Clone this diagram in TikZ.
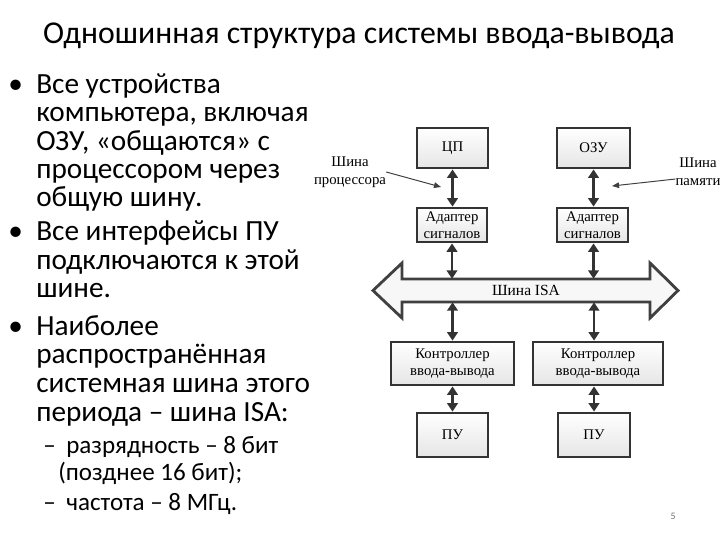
\documentclass[tikz,border=0pt]{standalone}
\usepackage{fontspec}
\setmainfont{Carlito}
\newfontfamily\diagfont{Liberation Serif}
\usetikzlibrary{arrows.meta}
\newlength\px
\setlength\px{0.025cm}

\begin{document}
\begin{tikzpicture}[x=0.025cm, y=-0.025cm,
    boxStyle/.style={rectangle, draw=black!80, line width=2pt, top color=white, bottom color=black!10, align=center, inner sep=0pt, font=\diagfont\fontsize{10.5}{12}\selectfont},
    linkStyle/.style={{Triangle[length=6pt,width=7.5pt]}-{Triangle[length=6pt,width=7.5pt]}, line width=2pt, draw=black!80},
    busStyle/.style={draw=black!75, line width=2pt, fill=black!3, line join=miter},
    noteStyle/.style={align=center, inner sep=0pt, font=\diagfont\fontsize{10.5}{12.5}\selectfont},
    pointStyle/.style={-{Triangle[length=5pt,width=4pt]}, line width=0.7pt, draw=black!75},
    lineStyle/.style={anchor=base west, inner sep=0pt, font=\fontsize{20.8}{24}\selectfont},
    subStyle/.style={anchor=base west, inner sep=0pt, font=\fontsize{17.8}{21}\selectfont}]
    \useasboundingbox[fill=white] (0,0) rectangle (720,540);

    \node[anchor=base, inner sep=0pt, font=\fontsize{22.6}{26}\selectfont] (title) at (359,43) {Одношинная структура системы ввода-вывода};

    \node[lineStyle] (b1) at (8,93) {•};
    \node[lineStyle] (t1) at (36,93) {Все устройства};
    \node[lineStyle] (t2) at (36,121) {компьютера, включая};
    \node[lineStyle] (t3) at (36,150) {ОЗУ, «общаются» с};
    \node[lineStyle] (t4) at (36,178) {процессором через};
    \node[lineStyle] (t5) at (36,206) {общую шину.};

    \node[lineStyle] (b2) at (8,240) {•};
    \node[lineStyle] (t6) at (36,240) {Все интерфейсы ПУ};
    \node[lineStyle] (t7) at (36,269) {подключаются к этой};
    \node[lineStyle] (t8) at (36,297) {шине.};

    \node[lineStyle] (b3) at (8,335) {•};
    \node[lineStyle] (t9) at (36,335) {Наиболее};
    \node[lineStyle] (t10) at (36,363) {распространённая};
    \node[lineStyle] (t11) at (36,392) {системная шина этого};
    \node[lineStyle] (t12) at (36,421) {периода – шина ISA:};

    \node[subStyle] (d1) at (43,453) {–};
    \node[subStyle] (s1) at (66,453) {разрядность – 8 бит};
    \node[subStyle] (s2) at (58,480) {(позднее 16 бит);};
    \node[subStyle] (d2) at (43,510) {–};
    \node[subStyle] (s3) at (66,510) {частота – 8 МГц.};

    \node[boxStyle, minimum width=71\px, minimum height=40\px] (cpu) at (452.5,148) {ЦП};
    \node[boxStyle, minimum width=73\px, minimum height=40\px] (ram) at (593.5,148) {ОЗУ};
    \node[boxStyle, minimum width=70\px, minimum height=34\px] (adl) at (452,225) {Адаптер\\сигналов};
    \node[boxStyle, minimum width=71\px, minimum height=34\px] (adr) at (592.5,225) {Адаптер\\сигналов};

    \draw[busStyle] (373,290.5) -- (402,263) -- (402,279) -- (650,279) -- (650,263) -- (678,290.5)
        -- (650,318) -- (650,302) -- (402,302) -- (402,318) -- cycle;
    \node[inner sep=0pt, minimum width=248\px, minimum height=23\px, font=\diagfont\fontsize{11}{12}\selectfont] (isa) at (526,290.5) {Шина ISA};

    \node[boxStyle, minimum width=123\px, minimum height=43\px] (ctl) at (452.5,363.5) {Контроллер\\ввода-вывода};
    \node[boxStyle, minimum width=130\px, minimum height=43\px] (ctr) at (598,363.5) {Контроллер\\ввода-вывода};
    \node[boxStyle, minimum width=71\px, minimum height=44\px] (pul) at (452.5,435) {ПУ};
    \node[boxStyle, minimum width=72\px, minimum height=44\px] (pur) at (594,435) {ПУ};

    \draw[linkStyle] (cpu.south) -- (adl.north -| cpu.south);
    \draw[linkStyle] (ram.south) -- (adr.north -| ram.south);
    \draw[linkStyle] (adl.south) -- (adl.south |- isa.north);
    \draw[linkStyle] (adr.south -| ram.south) -- (ram.south |- isa.north);
    \draw[linkStyle] (isa.south -| ctl.north) -- (ctl.north);
    \draw[linkStyle] (isa.south -| pur.north) -- (pur.north |- ctr.north);
    \draw[linkStyle] (ctl.south) -- (pul.north);
    \draw[linkStyle] (ctr.south -| pur.north) -- (pur.north);

    \node[noteStyle] (cpubus) at (350,172) {Шина\\процессора};
    \node[noteStyle] (membus) at (698,172) {Шина\\памяти};
    \coordinate (cpupin) at (441,187);
    \coordinate (mempin) at (612,186);
    \draw[pointStyle] (cpubus.east) -- (cpupin);
    \draw[pointStyle] ([yshift=-5pt]membus.west) -- (mempin);

    \node[inner sep=0pt, text=black!55, font=\fontsize{7}{8}\selectfont] (page) at (673,516) {5};
\end{tikzpicture}
\end{document}
